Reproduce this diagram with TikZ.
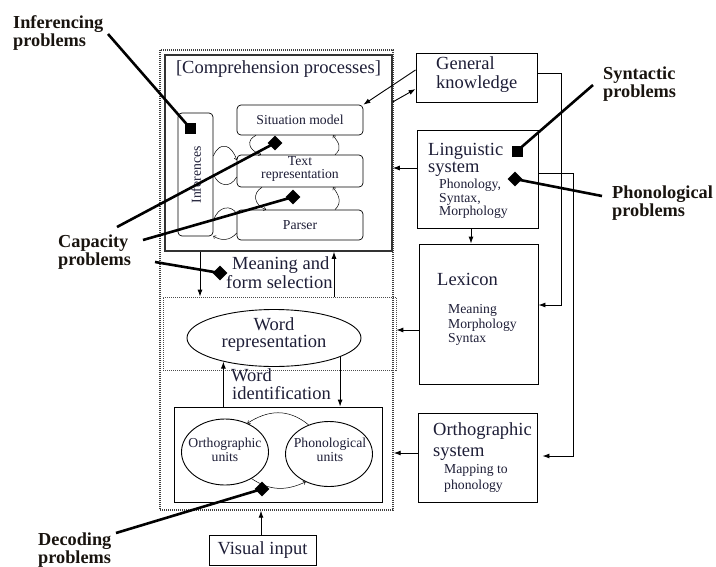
\documentclass[tikz,border=0pt]{standalone}
\usepackage{fontspec}
\setmainfont{Liberation Serif}
\usetikzlibrary{arrows.meta,shapes.geometric,calc}
\definecolor{txt}{RGB}{30,30,55}
\definecolor{lbl}{RGB}{25,20,15}
\newcommand\fbig{\fontsize{18.5}{16}\selectfont}
\newcommand\fbigw{\fontsize{18.5}{18}\selectfont}
\newcommand\fsmall{\fontsize{13.7}{14}\selectfont}
\newcommand\flbl{\fontsize{18.3}{18}\selectfont\bfseries}
\begin{document}
\begin{tikzpicture}[x=1pt,y=-1pt,
  box/.style={draw=black,line width=0.9pt,inner sep=0pt},
  rbox/.style={draw=black,line width=0.7pt,rounded corners=4pt,inner sep=0pt,font=\fsmall,text=txt},
  ell/.style={draw=black,ellipse,line width=0.9pt,inner sep=0pt},
  arr/.style={line width=0.9pt,-{Latex[length=7pt,width=5pt]}},
  lp/.style={line width=0.5pt,-{To[length=2.5pt,width=4pt]}},
  prob/.style={line width=2.6pt,black},
  sq/.style={fill=black,minimum size=11pt,inner sep=0pt},
  dia/.style={diamond,fill=black,minimum size=15pt,inner sep=0pt},
  tl/.style={anchor=base west,inner sep=0pt,text=txt},
  tc/.style={anchor=base,inner sep=0pt,text=txt},
  pl/.style={anchor=base west,inner sep=0pt,font=\flbl,text=lbl,align=left}
]
\useasboundingbox[fill=white] (0,0) rectangle (716,566);

% dotted zones
\node[draw=black!75,line width=1.4pt,dash pattern=on 1pt off 1pt,minimum width=233pt,minimum height=460pt,inner sep=0pt] (outer) at (276.5,280) {};
\node[draw=black!70,line width=0.7pt,dash pattern=on 1pt off 1pt,minimum width=233pt,minimum height=73pt,inner sep=0pt] (wordzone) at (279.5,333.5) {};

% comprehension
\node[draw=black!80,line width=1.5pt,minimum width=227pt,minimum height=196pt,inner sep=0pt] (comp) at (278.5,153) {};
\node[tc,font=\fbig] (title) at (278.5,73) {[Comprehension processes]};
\node[rbox,minimum width=35pt,minimum height=123pt] (inf) at (195.5,174.5) {};
\node[rotate=90,font=\fsmall,text=txt,inner sep=0pt] (inftext) at (196,175) {Inferences};
\node[rbox,minimum width=126pt,minimum height=30pt] (sit) at (300,120) {Situation model};
\node[rbox,minimum width=126pt,minimum height=32pt] (trep) at (300,171) {};
\node[tc,font=\fsmall] (trep1) at (300,165) {Text};
\node[tc,font=\fsmall] (trep2) at (300,178) {representation};
\node[rbox,minimum width=126pt,minimum height=30pt] (pars) at (300,225) {Parser};

% small loops
\draw[lp] (inf.east |- 0,156) .. controls (220,140) and (232,145) .. (trep.west |- 0,160);
\draw[lp] (trep.west |- 0,177) .. controls (230,189) and (218,186) .. (inf.east |- 0,174);
\draw[lp] (inf.east |- 0,221) .. controls (218,205) and (232,205) .. (pars.west |- 0,214);
\draw[lp] (pars.west |- 0,233) .. controls (230,241) and (221,241) .. (inf.east |- 0,236);
\draw[lp] (sit.south -| 256,0) .. controls (246,140) and (248,150) .. (trep.north -| 261,0);
\draw[lp] (trep.south -| 262,0) .. controls (252,193) and (254,205) .. (pars.north -| 266,0);
\draw[lp] (trep.north -| 335,0) .. controls (343,148) and (338,142) .. (sit.south -| 333,0);
\draw[lp] (pars.north -| 335,0) .. controls (343,202) and (338,194) .. (trep.south -| 333,0);

% right column
\node[box,minimum width=121pt,minimum height=49pt] (gk) at (476.5,77.5) {};
\node[tl,font=\fbig] (gk1) at (436,69) {General};
\node[tl,font=\fbig] (gk2) at (436,88) {knowledge};

\node[box,minimum width=121pt,minimum height=98pt] (ling) at (477.5,179) {};
\node[tl,font=\fbig] (ling1) at (428,155) {Linguistic};
\node[tl,font=\fbig] (ling2) at (428,172) {system};
\node[tl,font=\fsmall] (ling3) at (439,188) {Phonology,};
\node[tl,font=\fsmall] (ling4) at (439,202) {Syntax,};
\node[tl,font=\fsmall] (ling5) at (439,215) {Morphology};

\node[box,minimum width=119pt,minimum height=140pt] (lex) at (478.5,314) {};
\node[tl,font=\fbig] (lex1) at (437,285) {Lexicon};
\node[tl,font=\fsmall] (lex2) at (448,313) {Meaning};
\node[tl,font=\fsmall] (lex3) at (448,328) {Morphology};
\node[tl,font=\fsmall] (lex4) at (448,342) {Syntax};

\node[box,minimum width=119pt,minimum height=89pt] (ortho) at (477.5,457.5) {};
\node[tl,font=\fbig] (ortho1) at (433,435) {Orthographic};
\node[tl,font=\fbig] (ortho2) at (433,456) {system};
\node[tl,font=\fsmall] (ortho3) at (444,473) {Mapping to};
\node[tl,font=\fsmall] (ortho4) at (444,489) {phonology};

% word representation
\node[ell,minimum width=174pt,minimum height=57pt] (wrep) at (274,338) {};
\node[tc,font=\fbig] (wrep1) at (274,330) {Word};
\node[tc,font=\fbig] (wrep2) at (274,347) {representation};

\node[tl,font=\fbig,align=left] (mf) at (226,288) {\hspace*{6pt}Meaning and\\form selection};
\node[tl,font=\fbigw,align=left] (wi) at (231,399) {Word\\\hspace*{1pt}identification};

% decoding
\node[box,minimum width=208pt,minimum height=95pt] (dec) at (278,454.5) {};
\node[ell,minimum width=87pt,minimum height=66pt] (orthu) at (225,452) {};
\node[tc,font=\fsmall] (orthu1) at (225,447) {Orthographic};
\node[tc,font=\fsmall] (orthu2) at (225,461) {units};
\node[ell,minimum width=87pt,minimum height=65pt] (phonu) at (329,454) {};
\node[tc,font=\fsmall] (phonu1) at (330,447) {Phonological};
\node[tc,font=\fsmall] (phonu2) at (330,461) {units};
\draw[lp] (phonu.125) .. controls (288,408) and (268,410) .. (orthu.52);
\draw[lp] (orthu.-45) .. controls (270,491) and (286,491) .. (phonu.-130);

\node[box,minimum width=107pt,minimum height=30pt,font=\fbig,text=txt] (vis) at (262.5,550) {Visual input};

% arrows
\draw[arr] (gk.west |- 0,70) -- (sit.north east);
\draw[arr] (comp.east |- 0,102) -- (gk.west |- 0,89);
\draw[arr] (gk.east |- 0,73) -- ++(24,0) |- (lex.east |- 0,305);
\draw[arr] (ling.west |- 0,168) -- (comp.east |- 0,168);
\draw[arr,shorten >=5pt] (ling.east |- 0,173) -- ++(35,0) |- (ortho.east |- 0,456);
\draw[arr] (ling.south -| 471,0) -- (lex.north -| 471,0);
\draw[arr] (lex.west |- 0,330) -- (wordzone.east |- 0,330);
\draw[arr] (ortho.west |- 0,453) -- (outer.east |- 0,453);
\draw[arr] (comp.south -| 200,0) -- (wordzone.north -| 200,0);
\draw[arr] (wordzone.north -| 334,0) -- (comp.south -| 334,0);
\draw[arr] (dec.north -| wrep.205) -- (wrep.205);
\draw[arr] (wrep.344) -- (dec.north -| wrep.344);
\draw[arr] (vis.north -| 261,0) -- (outer.south -| 261,0);

% problem labels
\node[pl] (infl) at (13,46) {Inferencing\\problems};
\node[pl] (capl) at (58,265) {Capacity\\problems};
\node[pl] (synl) at (603,97) {Syntactic\\problems};
\node[pl] (phol) at (612,216) {Phonological\\problems};
\node[pl] (decl) at (38,563) {Decoding\\problems};

\coordinate (cinf) at (108,34);
\coordinate (ccap1) at (117,227);
\coordinate (ccap2) at (143,240);
\coordinate (ccap3) at (155,262);
\coordinate (csyn) at (593,85);
\coordinate (cpho) at (602,196);
\coordinate (cdec) at (116,533);

\node[sq] (mkinf) at (190,128) {};
\node[dia] (mkcap1) at (275,143) {};
\node[dia] (mkcap2) at (293,197) {};
\node[dia] (mkcap3) at (220,273) {};
\node[sq] (mksyn) at (517,151) {};
\node[dia] (mkpho) at (515,179) {};
\node[dia] (mkdec) at (262,489) {};

\draw[prob] (cinf) -- (mkinf.center);
\draw[prob] (ccap1) -- (mkcap1.center);
\draw[prob] (ccap2) -- (mkcap2.center);
\draw[prob] (ccap3) -- (mkcap3.center);
\draw[prob] (csyn) -- (mksyn.center);
\draw[prob] (cpho) -- (mkpho.center);
\draw[prob] (cdec) -- (mkdec.center);
\end{tikzpicture}
\end{document}
